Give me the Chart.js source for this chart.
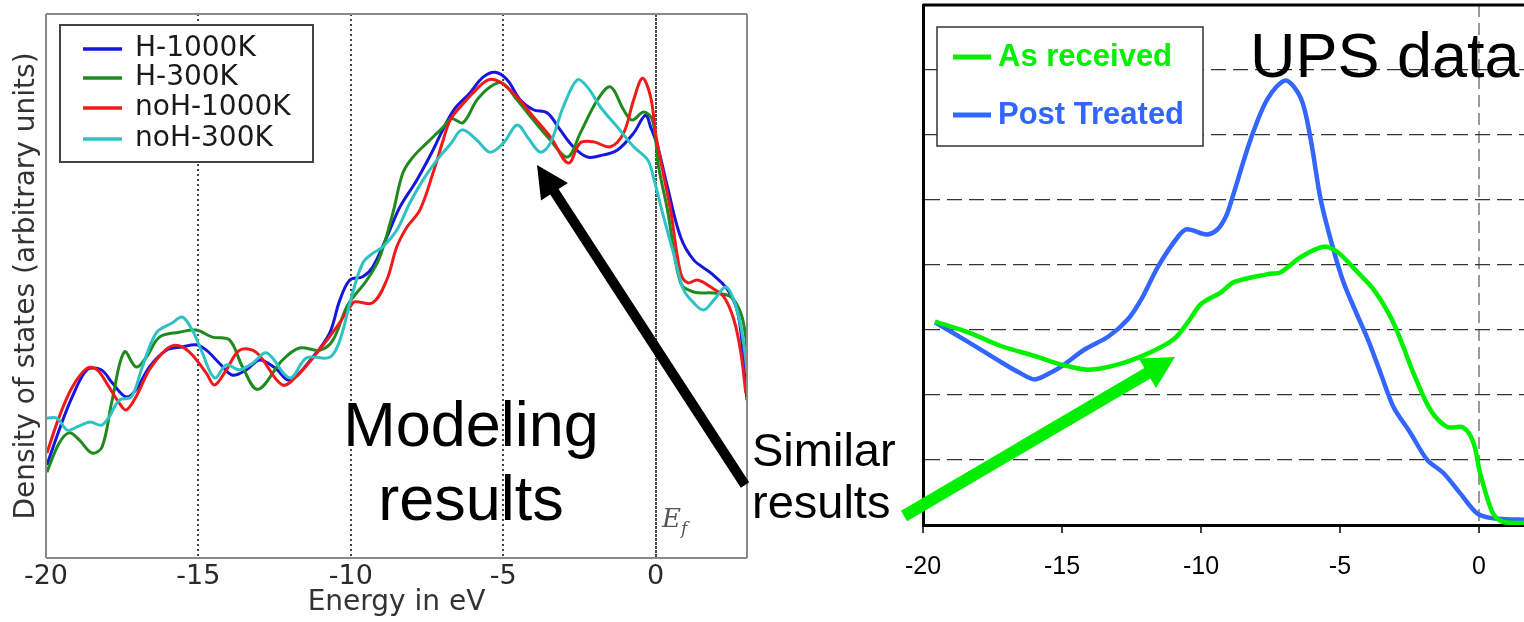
<!DOCTYPE html>
<html>
<head>
<meta charset="utf-8">
<script src="https://cdn.jsdelivr.net/npm/chart.js@4.4.1/dist/chart.umd.min.js"></script>
<style>
  html, body { margin: 0; padding: 0; background: #fff; }
  body { width: 1524px; height: 622px; position: relative; overflow: hidden; }
  #left { position: absolute; left: 0; top: 0; width: 760px; height: 622px; }
  #right { position: absolute; left: 880px; top: 0; width: 644px; height: 622px; }
  #notes { position: absolute; left: 0; top: 0; }
</style>
</head>
<body>
<canvas id="left" width="760" height="622"></canvas>
<canvas id="right" width="644" height="622"></canvas>
<svg id="notes" width="1524" height="622" xmlns="http://www.w3.org/2000/svg">
  <g font-family="'Liberation Sans', Arial, sans-serif" fill="#000">
    <text x="471" y="446" font-size="63" text-anchor="middle">Modeling</text>
    <text x="471" y="520" font-size="63" text-anchor="middle">results</text>
    <text x="752" y="466" font-size="47">Similar</text>
    <text x="752" y="518" font-size="47">results</text>
    <text x="1250" y="77" font-size="63">UPS data</text>
  </g>
  <text x="662" y="527" font-family="'DejaVu Serif', serif" font-style="italic" font-size="26" fill="#555">E<tspan dy="7" font-size="17">f</tspan></text>
</svg>
<script>
// modeling (left): [energy eV, DOS arbitrary]
const modelTicks = [-20, -15, -10, -5, 0];
const h1000K = [[-19.97,1.71],[-19.57,2.35],[-19.14,2.96],[-18.65,3.46],[-18.19,3.46],[-17.83,3.22],[-17.37,2.96],[-17.05,3.09],[-16.61,3.51],[-16.05,3.82],[-15.53,3.88],[-15.07,3.92],[-14.74,3.82],[-14.31,3.58],[-13.88,3.36],[-13.42,3.46],[-12.99,3.64],[-12.5,3.5],[-12.0,3.27],[-11.25,3.69],[-10.69,4.14],[-10.36,4.74],[-10.03,5.11],[-9.61,5.17],[-9.28,5.35],[-8.82,5.9],[-8.39,6.45],[-7.83,6.95],[-7.3,7.5],[-7.0,7.85],[-6.6,8.25],[-6.09,8.55],[-5.66,8.84],[-5.26,8.93],[-4.87,8.79],[-4.44,8.42],[-4.01,8.24],[-3.55,8.18],[-3.13,7.87],[-2.7,7.56],[-2.24,7.37],[-1.71,7.41],[-1.25,7.5],[-0.72,7.81],[-0.33,8.14],[-0.16,7.92],[0.07,7.56],[0.39,6.82],[0.82,5.9],[1.25,5.48],[1.81,5.24],[2.37,4.93],[2.7,4.5],[2.89,3.64],[3.0,2.9]];
const h300K = [[-19.97,1.58],[-19.57,2.11],[-19.24,2.3],[-18.91,2.17],[-18.49,1.93],[-18.16,2.04],[-17.83,2.9],[-17.43,3.79],[-17.04,3.51],[-16.71,3.69],[-16.28,4.06],[-15.63,4.15],[-15.07,4.19],[-14.54,4.06],[-13.98,4.01],[-13.55,3.51],[-13.05,3.1],[-12.24,3.64],[-11.68,3.86],[-11.02,3.82],[-10.59,4.0],[-10.1,4.65],[-9.47,5.11],[-9.05,5.53],[-8.62,6.34],[-8.29,7.08],[-7.96,7.37],[-7.5,7.63],[-6.97,7.92],[-6.7,8.08],[-6.32,8.0],[-5.86,8.42],[-5.43,8.66],[-5.03,8.73],[-4.54,8.42],[-4.01,8.05],[-3.45,7.68],[-2.89,7.37],[-2.47,7.81],[-1.91,8.42],[-1.48,8.66],[-1.05,8.24],[-0.77,8.05],[-0.39,8.2],[-0.1,8.05],[0.1,7.19],[0.39,6.4],[0.82,5.06],[1.25,4.89],[1.91,4.87],[2.47,4.8],[2.8,4.5],[2.96,4.06],[3.0,3.8]];
const noH1000K = [[-19.97,1.93],[-19.57,2.59],[-19.14,3.14],[-18.65,3.49],[-18.32,3.46],[-17.93,3.14],[-17.6,2.85],[-17.37,2.72],[-17.05,2.96],[-16.61,3.46],[-16.18,3.77],[-15.86,3.9],[-15.53,3.88],[-15.2,3.73],[-14.74,3.4],[-14.47,3.18],[-14.08,3.46],[-13.65,3.82],[-13.1,3.78],[-12.24,3.18],[-11.68,3.4],[-11.07,3.8],[-10.46,4.25],[-10.03,4.61],[-9.87,4.71],[-9.28,4.69],[-8.82,5.11],[-8.49,5.72],[-8.16,6.08],[-7.73,6.4],[-7.3,7.08],[-6.97,7.68],[-6.74,8.05],[-6.41,8.29],[-5.99,8.55],[-5.49,8.79],[-5.1,8.75],[-4.54,8.47],[-4.01,8.11],[-3.45,7.74],[-2.86,7.26],[-2.47,7.63],[-2.04,7.65],[-1.48,7.56],[-1.05,7.81],[-0.72,8.42],[-0.43,8.82],[-0.16,8.47],[0,7.81],[0.23,7.13],[0.49,6.4],[0.82,5.24],[1.05,5.06],[1.38,5.11],[1.81,4.98],[2.24,4.8],[2.57,4.38],[2.8,3.77],[2.96,3.03]];
const noH300K = [[-19.97,2.57],[-19.64,2.57],[-19.3,2.35],[-18.98,2.41],[-18.55,2.5],[-18.19,2.44],[-17.93,2.59],[-17.6,2.9],[-17.2,2.96],[-16.84,3.51],[-16.38,4.14],[-15.86,4.32],[-15.53,4.43],[-15.2,4.19],[-14.87,3.77],[-14.47,3.31],[-14.08,3.55],[-13.65,3.46],[-13.22,3.58],[-12.76,3.77],[-12.0,3.31],[-11.45,3.68],[-10.69,3.69],[-10.36,4.0],[-10.0,4.75],[-9.61,5.42],[-9.28,5.6],[-8.95,5.72],[-8.49,6.03],[-8.06,6.53],[-7.63,6.95],[-7.17,7.32],[-6.7,7.63],[-6.35,7.87],[-5.86,7.68],[-5.43,7.46],[-4.99,7.63],[-4.54,7.96],[-4.18,7.72],[-3.78,7.46],[-3.45,7.63],[-3.03,8.29],[-2.57,8.79],[-2.24,8.66],[-1.81,8.29],[-1.25,7.92],[-0.72,7.56],[-0.26,7.32],[-0.07,7.0],[0.23,6.34],[0.59,5.6],[0.92,4.93],[1.25,4.69],[1.58,4.56],[1.91,4.74],[2.3,4.98],[2.57,4.74],[2.8,4.25],[2.96,3.64],[3.0,3.4]];

// UPS (right): [energy eV, intensity]
const upsTicks = [-20, -15, -10, -5, 0];
const upsLevels = [0, 1, 2, 3, 4, 5, 6, 7, 8];
const asReceived = [[-19.57,3.13],[-18.35,2.96],[-17.17,2.75],[-15.98,2.6],[-14.95,2.46],[-14.05,2.39],[-12.97,2.47],[-11.8,2.66],[-10.97,2.86],[-10.47,3.12],[-10.0,3.4],[-9.28,3.58],[-8.8,3.74],[-7.6,3.86],[-7.13,3.89],[-6.42,4.12],[-5.59,4.28],[-5.09,4.2],[-4.37,3.89],[-3.8,3.63],[-3.19,3.21],[-2.83,2.86],[-2.37,2.35],[-1.76,1.78],[-1.15,1.51],[-0.57,1.5],[-0.2,1.27],[0.04,0.8],[0.5,0.18],[0.86,0.05],[1.62,0.03]];
const postTreated = [[-19.57,3.12],[-18.35,2.81],[-17.17,2.5],[-16.56,2.35],[-15.98,2.24],[-15.38,2.35],[-14.95,2.46],[-14.19,2.7],[-13.33,2.9],[-12.62,3.17],[-12.15,3.47],[-11.54,3.98],[-10.8,4.45],[-10.5,4.55],[-9.8,4.47],[-9.4,4.55],[-9.1,4.75],[-8.92,4.97],[-8.2,5.95],[-7.6,6.56],[-6.95,6.84],[-6.4,6.56],[-6.06,5.95],[-5.7,5.02],[-5.27,4.29],[-4.87,3.73],[-4.4,3.25],[-4.0,2.86],[-3.55,2.35],[-3.08,1.82],[-2.47,1.42],[-1.86,1.0],[-1.28,0.8],[-0.68,0.49],[-0.07,0.18],[0.39,0.11],[1.0,0.09],[1.62,0.08]];

const pts = arr => arr.map(p => ({x: p[0], y: p[1]}));

// legend drawn as a framed box inside the plot
const boxLegend = {
  id: 'boxLegend',
  afterDraw(chart, args, o) {
    const ctx = chart.ctx;
    ctx.save();
    ctx.fillStyle = '#fff';
    ctx.fillRect(o.x, o.y, o.w, o.h);
    ctx.strokeStyle = o.border;
    ctx.lineWidth = o.borderWidth;
    ctx.strokeRect(o.x, o.y, o.w, o.h);
    ctx.font = o.font;
    ctx.textBaseline = 'middle';
    chart.data.datasets.forEach((ds, i) => {
      const y = o.rows[i];
      ctx.strokeStyle = ds.borderColor;
      ctx.lineWidth = o.lineWidth;
      ctx.beginPath();
      ctx.moveTo(o.line[0], y);
      ctx.lineTo(o.line[1], y);
      ctx.stroke();
      ctx.fillStyle = o.textColor || ds.borderColor;
      ctx.fillText(ds.label, o.textX, y);
    });
    ctx.restore();
  }
};

const frame = {
  id: 'frame',
  afterDatasetsDraw(chart, args, o) {
    const {ctx, chartArea: a} = chart;
    ctx.save();
    ctx.strokeStyle = o.color;
    ctx.lineWidth = o.width;
    ctx.beginPath();
    if (o.sides.includes('top')) { ctx.moveTo(a.left, a.top); ctx.lineTo(a.right, a.top); }
    if (o.sides.includes('right')) { ctx.moveTo(a.right, a.top); ctx.lineTo(a.right, a.bottom); }
    if (o.sides.includes('bottom')) { ctx.moveTo(a.left, a.bottom); ctx.lineTo(a.right, a.bottom); }
    if (o.sides.includes('left')) { ctx.moveTo(a.left, a.top); ctx.lineTo(a.left, a.bottom); }
    ctx.stroke();
    ctx.restore();
  }
};

new Chart(document.getElementById('left'), {
  type: 'line',
  data: {
    datasets: [
      {label: 'H-1000K', data: pts(h1000K), borderColor: '#1616dc', order: 3},
      {label: 'H-300K', data: pts(h300K), borderColor: '#1f8a1f', order: 2},
      {label: 'noH-1000K', data: pts(noH1000K), borderColor: '#f01a1a', order: 1},
      {label: 'noH-300K', data: pts(noH300K), borderColor: '#2ec2c2', order: 0}
    ]
  },
  options: {
    responsive: false,
    animation: false,
    devicePixelRatio: 1,
    layout: {padding: {left: 0, top: 14, right: 13, bottom: 0}},
    elements: {point: {radius: 0}, line: {tension: 0.35, borderWidth: 3}},
    plugins: {
      legend: {display: false},
      tooltip: {enabled: false},
      boxLegend: {x: 60, y: 25, w: 253, h: 137, line: [83, 122], rows: [49, 78, 108, 139], textX: 135,
        font: '28px "DejaVu Sans"', textColor: '#1a1a1a', border: '#444', borderWidth: 2, lineWidth: 3.5},
      frame: {color: '#8a8a8a', width: 2, sides: ['top', 'right', 'bottom', 'left']}
    },
    scales: {
      x: {
        type: 'linear', min: -20, max: 3,
        afterBuildTicks: s => { s.ticks = modelTicks.map(v => ({value: v})); },
        afterFit: s => { s.height = 64; },
        grid: {color: '#444', lineWidth: 2, drawTicks: false},
        border: {display: false, dash: c => (c.tick && c.tick.value === 0) ? [3, 1] : [2, 3]},
        ticks: {font: {family: 'DejaVu Sans', size: 27}, color: '#2a2a2a', padding: 3},
        title: {display: true, text: 'Energy in eV', font: {family: 'DejaVu Sans', size: 28}, color: '#333', padding: {top: 0, bottom: 2}}
      },
      y: {
        min: 0, max: 10,
        afterFit: s => { s.width = 46; },
        grid: {display: false},
        border: {display: false},
        ticks: {display: false},
        title: {display: true, text: 'Density of states (arbitrary units)', font: {family: 'DejaVu Sans', size: 28}, color: '#333', padding: {top: 10, bottom: 0}}
      }
    }
  },
  plugins: [frame, boxLegend]
});

new Chart(document.getElementById('right'), {
  type: 'line',
  data: {
    datasets: [
      {label: 'As received', data: pts(asReceived), borderColor: '#00f000'},
      {label: 'Post Treated', data: pts(postTreated), borderColor: '#3366ff'}
    ]
  },
  options: {
    responsive: false,
    animation: false,
    devicePixelRatio: 1,
    layout: {padding: {left: 0, top: 5, right: 0, bottom: 0}},
    elements: {point: {radius: 0}, line: {tension: 0.3, borderWidth: 4.5}},
    plugins: {
      legend: {display: false},
      tooltip: {enabled: false},
      boxLegend: {x: 57, y: 27, w: 266, h: 119, line: [73, 111], rows: [57, 115], textX: 118,
        font: 'bold 31px "Liberation Sans"', textColor: null, border: '#333', borderWidth: 1.5, lineWidth: 5},
      frame: {color: '#000', width: 3, sides: ['top']}
    },
    scales: {
      x: {
        type: 'linear', min: -20, max: 1.62,
        afterBuildTicks: s => { s.ticks = upsTicks.map(v => ({value: v})); },
        afterFit: s => { s.height = 97; },
        grid: {color: c => (c.tick && c.tick.value === 0) ? '#9a9a9a' : 'rgba(0,0,0,0)', lineWidth: 2,
          drawTicks: true, tickLength: 8, tickColor: '#000', tickWidth: 1.5},
        border: {display: true, color: '#000', width: 3, dash: [12, 6]},
        ticks: {font: {family: 'Liberation Sans', size: 25}, color: '#000', padding: 19}
      },
      y: {
        min: 0, max: 8,
        afterBuildTicks: s => { s.ticks = upsLevels.map(v => ({value: v})); },
        afterFit: s => { s.width = 43; },
        grid: {color: c => (c.tick && c.tick.value > 0 && c.tick.value < 8) ? '#333' : 'rgba(0,0,0,0)', lineWidth: 1.3, drawTicks: false},
        border: {display: true, color: '#000', width: 3, dash: [15, 7]},
        ticks: {display: false}
      }
    }
  },
  plugins: [frame, boxLegend]
});

// annotation arrows
function arrow(x1, y1, x2, y2, w, headLen, headHalf, color) {
  const dx = x2 - x1, dy = y2 - y1, len = Math.hypot(dx, dy);
  const ux = dx / len, uy = dy / len, px = -uy, py = ux;
  const bx = x2 - ux * headLen, by = y2 - uy * headLen;
  const p = [
    [x1 + px * w / 2, y1 + py * w / 2], [bx + px * w / 2, by + py * w / 2],
    [bx + px * headHalf, by + py * headHalf], [x2, y2],
    [bx - px * headHalf, by - py * headHalf], [bx - px * w / 2, by - py * w / 2],
    [x1 - px * w / 2, y1 - py * w / 2]
  ];
  const poly = document.createElementNS('http://www.w3.org/2000/svg', 'polygon');
  poly.setAttribute('points', p.map(q => q[0].toFixed(1) + ',' + q[1].toFixed(1)).join(' '));
  poly.setAttribute('fill', color);
  document.getElementById('notes').appendChild(poly);
}
arrow(745, 485, 537, 165, 10, 32, 16, '#000');
arrow(904, 516, 1175, 357, 12, 32, 17, '#00ee00');
</script>
</body>
</html>
